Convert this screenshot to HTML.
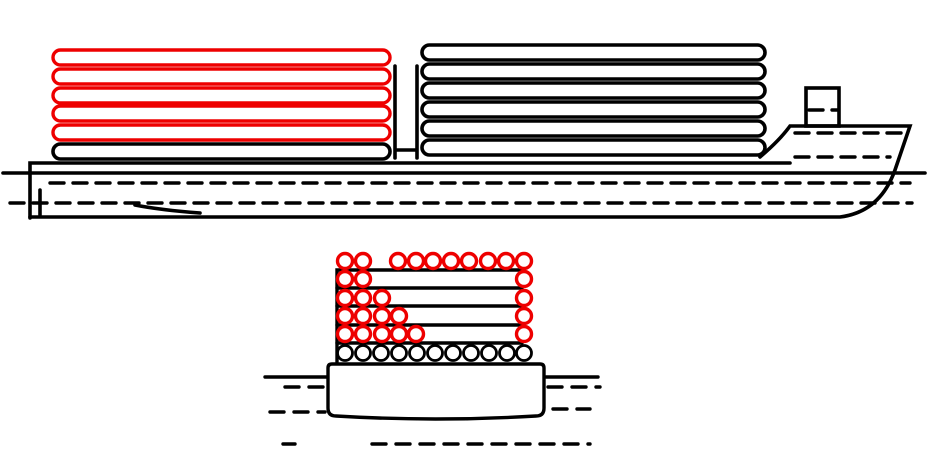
<!DOCTYPE html>
<html><head><meta charset="utf-8"><style>html,body{margin:0;padding:0;background:#fff}svg{display:block}</style></head>
<body>
<svg width="930" height="454" viewBox="0 0 930 454" xmlns="http://www.w3.org/2000/svg" fill="none" stroke-linecap="round">
<g stroke="#000" stroke-width="3.6">
<rect x="53" y="144" width="337" height="15" rx="7.5"/>
<line x1="395" y1="66" x2="395" y2="158"/>
<rect x="422" y="45" width="343" height="15" rx="7.5"/>
<rect x="422" y="64" width="343" height="15" rx="7.5"/>
<rect x="422" y="83" width="343" height="15" rx="7.5"/>
<rect x="422" y="102" width="343" height="15" rx="7.5"/>
<rect x="422" y="121" width="343" height="15" rx="7.5"/>
<rect x="422" y="140" width="343" height="15" rx="7.5"/>
<line x1="417" y1="66" x2="417" y2="158"/>
<line x1="397" y1="150" x2="416" y2="150"/>
<path d="M30 218 L30 163 L790 163"/>
<path d="M30 217 L840 217 Q880 212 895 170 L910 126 L790 126 Q780 140 760 157"/>
<rect x="806" y="88" width="33" height="38"/>
<line x1="3" y1="173" x2="925" y2="173"/>
<line x1="40" y1="190" x2="40" y2="215"/>
<path d="M135 205 Q160 210 200 213" />
</g>
<g stroke="#000" stroke-width="3.4" stroke-dasharray="14 9">
<line x1="50" y1="183" x2="910" y2="183"/>
<line x1="10" y1="203" x2="912" y2="203"/>
<line x1="795" y1="133" x2="905" y2="133"/>
<line x1="795" y1="157" x2="890" y2="157"/>
<line x1="809" y1="110" x2="837" y2="110"/>
</g>
<g stroke="#e00" stroke-width="3.4">
<rect x="53" y="50" width="337" height="15" rx="7.5"/>
<rect x="53" y="69" width="337" height="15" rx="7.5"/>
<rect x="53" y="88" width="337" height="15" rx="7.5"/>
<rect x="53" y="106" width="337" height="15" rx="7.5"/>
<rect x="53" y="125" width="337" height="15" rx="7.5"/>
</g>
<g stroke="#000" stroke-width="3.4">
<path d="M337 362 L337 270 L522 270"/>
<line x1="337" y1="288" x2="522" y2="288"/>
<line x1="337" y1="306" x2="522" y2="306"/>
<line x1="337" y1="325" x2="522" y2="325"/>
<line x1="337" y1="343" x2="522" y2="343"/>
<path d="M332 364 L540 364 Q544 364 544 368 L544 408 Q544 416 536 416 Q435 422 336 416 Q328 416 328 408 L328 368 Q328 364 332 364Z"/>
<line x1="265" y1="377" x2="327" y2="377"/>
<line x1="546" y1="377" x2="598" y2="377"/>
</g>
<g stroke="#000" stroke-width="2.8">
<circle cx="345" cy="353" r="7.5"/><circle cx="363" cy="353" r="7.5"/><circle cx="381" cy="353" r="7.5"/><circle cx="399" cy="353" r="7.5"/><circle cx="417" cy="353" r="7.5"/><circle cx="435" cy="353" r="7.5"/><circle cx="453" cy="353" r="7.5"/><circle cx="471" cy="353" r="7.5"/><circle cx="489" cy="353" r="7.5"/><circle cx="507" cy="353" r="7.5"/><circle cx="524" cy="353" r="7.5"/>
</g>
<g stroke="#000" stroke-width="3.4" stroke-dasharray="14 10">
<line x1="285" y1="387" x2="327" y2="387"/>
<line x1="548" y1="387" x2="600" y2="387"/>
<line x1="270" y1="412" x2="325" y2="412"/>
<line x1="553" y1="409" x2="590" y2="409"/>
<line x1="283" y1="444" x2="295" y2="444"/>
<line x1="372" y1="444" x2="590" y2="444"/>
</g>
<g stroke="#e00" stroke-width="3.4">
<circle cx="345" cy="261" r="7.5"/><circle cx="363" cy="261" r="7.5"/><circle cx="398" cy="261" r="7.5"/><circle cx="416" cy="261" r="7.5"/><circle cx="433" cy="261" r="7.5"/><circle cx="451" cy="261" r="7.5"/><circle cx="469" cy="261" r="7.5"/><circle cx="488" cy="261" r="7.5"/><circle cx="506" cy="261" r="7.5"/><circle cx="524" cy="261" r="7.5"/>
<circle cx="345" cy="279" r="7.5"/><circle cx="363" cy="279" r="7.5"/><circle cx="524" cy="279" r="7.5"/>
<circle cx="345" cy="298" r="7.5"/><circle cx="363" cy="298" r="7.5"/><circle cx="382" cy="298" r="7.5"/><circle cx="524" cy="298" r="7.5"/>
<circle cx="345" cy="316" r="7.5"/><circle cx="363" cy="316" r="7.5"/><circle cx="382" cy="316" r="7.5"/><circle cx="399" cy="316" r="7.5"/><circle cx="524" cy="316" r="7.5"/>
<circle cx="345" cy="334" r="7.5"/><circle cx="363" cy="334" r="7.5"/><circle cx="382" cy="334" r="7.5"/><circle cx="399" cy="334" r="7.5"/><circle cx="416" cy="334" r="7.5"/><circle cx="524" cy="334" r="7.5"/>
</g>
</svg>
</body></html>
